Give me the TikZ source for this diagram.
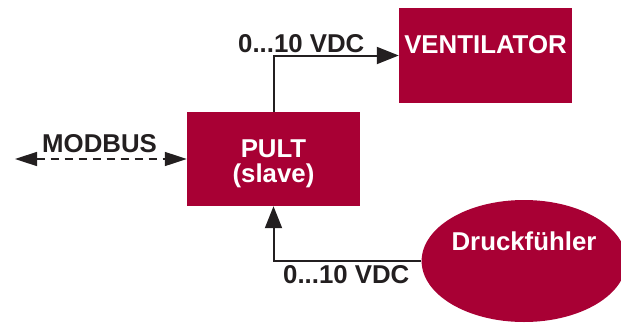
\documentclass[tikz,border=0pt]{standalone}
\usepackage{fontspec}
\setmainfont{Liberation Sans}
\usetikzlibrary{shapes, arrows.meta}
\definecolor{boxred}{RGB}{168,0,52}
\definecolor{ink}{RGB}{35,31,32}

\begin{document}
\begin{tikzpicture}[x=1pt, y=-1pt,
		big/.style={font=\fontsize{25.8}{25}\selectfont\bfseries},
		unit/.style={big, fill=boxred, text=white, inner sep=0pt},
		lbl/.style={big, text=ink, inner sep=0pt, anchor=base west},
		sig/.style={line width=2pt, ink, -{Triangle[length=22pt,width=17pt]}},
		bus/.style={line width=1.5pt, ink, dash pattern=on 8pt off 6pt, {Triangle[length=22pt,width=14pt]}-{Triangle[length=22pt,width=14pt]}}]
		\useasboundingbox (0,0) rectangle (621,322);
		\node[unit, minimum width=173pt, minimum height=95pt, text height=45pt, text depth=50pt] (vent) at (485.5,55.5) {VENTILATOR};
		\node[unit, minimum width=173pt, minimum height=94pt, text height=70pt, text depth=24pt, align=center] (pult) at (273.5,159) {PULT\\(slave)};
		\node[unit, ellipse, minimum width=198pt, minimum height=122pt, text height=18.5pt, text depth=40.5pt] (sensor) at (524,261) {Druckfühler};
		\coordinate (busend) at (15,159);
		\draw[bus] (busend) -- (pult.west);
		\draw[sig] (pult.north) |- (vent.west);
		\draw[sig] (sensor.west) -| (pult.south);
		\node[lbl] (bustext) at (42,152) {MODBUS};
		\node[lbl] (vdcout) at (238,52) {0...10 VDC};
		\node[lbl] (vdcin) at (283,283) {0...10 VDC};
\end{tikzpicture}
\end{document}
